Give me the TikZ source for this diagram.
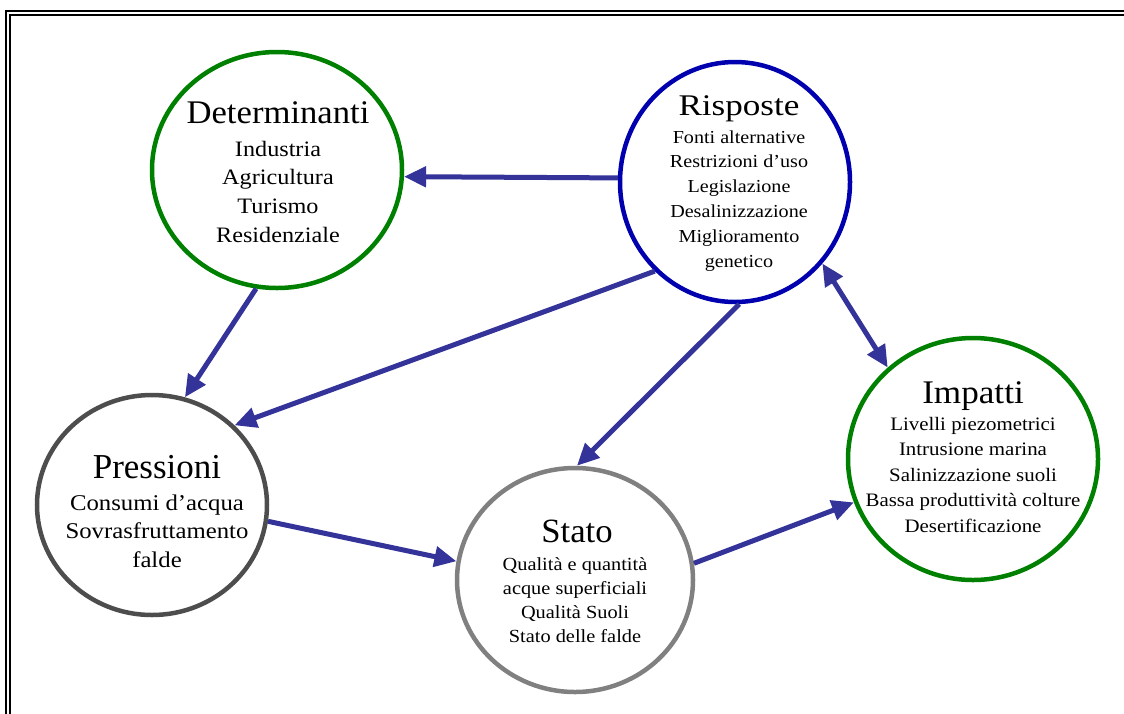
\documentclass[tikz,border=0pt]{standalone}
\usepackage{fontspec}
\usepackage{graphicx}
\setmainfont[FakeStretch=1.1]{Liberation Serif}
\newfontfamily\ttlfont{Liberation Serif}
\usetikzlibrary{shapes.geometric,arrows.meta}
\definecolor{arrc}{RGB}{51,51,153}
\definecolor{grn}{RGB}{0,128,0}
\definecolor{blu}{RGB}{0,0,175}
\definecolor{dgr}{RGB}{77,77,77}
\definecolor{lgr}{RGB}{128,128,128}
\setlength{\tabcolsep}{0pt}
\begin{document}
\begin{tikzpicture}[x=1pt,y=-1pt,
  ring/.style={draw, ellipse, line width=4.5pt, inner sep=0pt},
  ttl/.style={anchor=base, inner sep=0pt},
  bdy/.style={anchor=base, inner sep=0pt},
  arw/.style={draw=arrc, line width=5pt, -{Triangle[length=22pt,width=20pt]}},
  arwb/.style={draw=arrc, line width=5pt, {Triangle[length=22pt,width=20pt]}-{Triangle[length=22pt,width=20pt]}}]
\useasboundingbox (0,0) rectangle (1124,713);
% frame
\draw[line width=1.2pt] (1130,11) -- (6,11) -- (6,720);
\draw[line width=2pt] (1130,14.5) -- (9.8,14.5) -- (9.8,720);
% circles
\node[ring, draw=grn, minimum width=250pt, minimum height=236pt] (det) at (277,170) {};
\node[ring, draw=blu, minimum width=230pt, minimum height=240pt] (ris) at (735,182) {};
\node[ring, draw=dgr, minimum width=230pt, minimum height=220pt] (pre) at (152,505) {};
\node[ring, draw=lgr, minimum width=236pt, minimum height=224pt] (sta) at (575,580) {};
\node[ring, draw=grn, minimum width=250pt, minimum height=242pt] (imp) at (973,459) {};
% texts
\node[ttl, font=\ttlfont\fontsize{33}{33}\selectfont] (detT) at (278,123) {\scalebox{1.05}[1]{Determinanti}};
\node[bdy, font=\fontsize{22}{28.7}\selectfont] (detB) at (278,156)
  {\begin{tabular}[t]{c}Industria\\Agricultura\\Turismo\\Residenziale\end{tabular}};
\node[ttl, font=\ttlfont\fontsize{30}{30}\selectfont] (risT) at (739,115) {\scalebox{1.17}[1]{Risposte}};
\node[bdy, font=\fontsize{18.3}{24.8}\selectfont] (risB) at (739,143)
  {\begin{tabular}[t]{c}Fonti alternative\\Restrizioni d’uso\\Legislazione\\Desalinizzazione\\Miglioramento\\genetico\end{tabular}};
\node[ttl, font=\ttlfont\fontsize{35}{35}\selectfont] (preT) at (157,478) {Pressioni};
\node[bdy, font=\fontsize{22.5}{28.5}\selectfont] (preB) at (157,510)
  {\begin{tabular}[t]{c}Consumi d’acqua\\Sovrasfruttamento\\falde\end{tabular}};
\node[ttl, font=\ttlfont\fontsize{34}{34}\selectfont] (staT) at (577,542) {\scalebox{1.02}[1]{Stato}};
\node[bdy, font=\fontsize{18.5}{24.3}\selectfont] (staB) at (575,570)
  {\begin{tabular}[t]{c}Qualità e quantità\\acque superficiali\\Qualità Suoli\\Stato delle falde\end{tabular}};
\node[ttl, font=\ttlfont\fontsize{33}{33}\selectfont] (impT) at (973,403) {\scalebox{1.065}[1]{Impatti}};
\node[bdy, font=\fontsize{19}{25.5}\selectfont] (impB) at (973,430)
  {\begin{tabular}[t]{c}Livelli piezometrici\\Intrusione marina\\Salinizzazione suoli\\Bassa produttività colture\\Desertificazione\end{tabular}};
% connectors
\draw[arw] (ris.178) -- (det.-3.2);
\draw[arw] (det.260) -- (pre.73);
\draw[arw] (ris.228) -- (pre.44);
\draw[arw] (ris.272) -- (sta.89);
\draw[arwb] (ris.317) -- (imp.133.7);
\draw[arw] (pre.-8.4) -- (sta.171.5);
\draw[arw] (sta.8.2) -- (imp.200);
\end{tikzpicture}
\end{document}
